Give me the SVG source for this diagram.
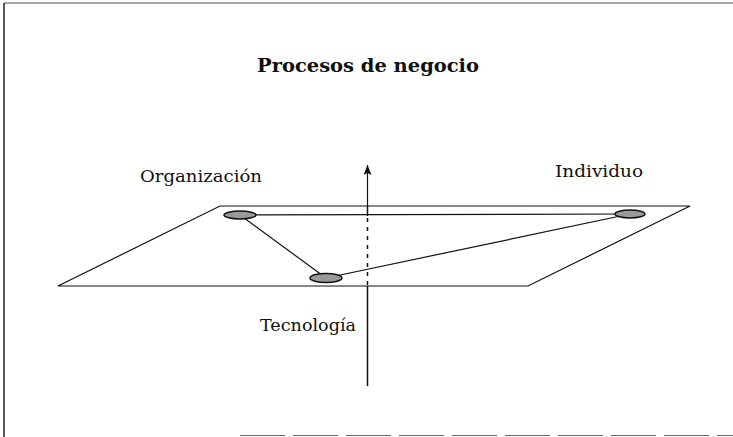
<svg xmlns="http://www.w3.org/2000/svg" width="733" height="437" viewBox="0 0 733 437">
<style>
.t{font-family:"DejaVu Serif","Liberation Serif",serif;fill:#111;}
.l{stroke:#111;stroke-width:1.2;fill:none;}
.e{fill:#9a9a9a;stroke:#111;stroke-width:1.5;}
</style>
<defs>
<marker id="ah" markerWidth="10" markerHeight="8" refX="10" refY="4" orient="auto" markerUnits="userSpaceOnUse" viewBox="0 0 10 8">
<path d="M0,0 L10,4 L0,8 L2,4 Z" fill="#111"/>
</marker>
</defs>
<rect width="733" height="437" fill="#fff"/>
<g id="frame">
<line x1="4" y1="3" x2="733" y2="3" stroke="#555" stroke-width="1.2"/>
<line x1="4" y1="3" x2="4" y2="437" stroke="#222" stroke-width="1.5"/>
<line x1="240" y1="435.5" x2="733" y2="435.5" stroke="#666" stroke-width="1.2" stroke-dasharray="45,8"/>
</g>
<g id="title"><text class="t" x="368" y="72" font-size="18" font-weight="bold" text-anchor="middle" textLength="222" lengthAdjust="spacingAndGlyphs">Procesos de negocio</text></g>
<g id="plane"><polygon class="l" points="58,286 220,206 690,206 528,286"/></g>
<g id="connectors">
<line class="l" x1="240" y1="215" x2="630" y2="214"/>
<line class="l" x1="240" y1="215" x2="326" y2="278"/>
<line class="l" x1="326" y1="278" x2="630" y2="214"/>
<line class="l" x1="367.5" y1="206" x2="367.5" y2="165" marker-end="url(#ah)"/>
<line x1="367.5" y1="206" x2="367.5" y2="216" stroke="#111" stroke-width="1.5"/>
<line x1="367.5" y1="218" x2="367.5" y2="286" stroke="#111" stroke-width="1.5" stroke-dasharray="4,5"/>
<line x1="367.5" y1="286" x2="367.5" y2="386" stroke="#111" stroke-width="1.5"/>
</g>
<g id="organizacion">
<ellipse class="e" cx="240" cy="215" rx="16" ry="4"/>
<text class="t" x="140" y="182" font-size="17" textLength="122" lengthAdjust="spacingAndGlyphs">Organización</text>
</g>
<g id="individuo">
<ellipse class="e" cx="630" cy="214" rx="15" ry="4"/>
<text class="t" x="555" y="177" font-size="17" textLength="88" lengthAdjust="spacingAndGlyphs">Individuo</text>
</g>
<g id="tecnologia">
<ellipse class="e" cx="326" cy="278" rx="16" ry="4.5"/>
<text class="t" x="260" y="331" font-size="17" textLength="96" lengthAdjust="spacingAndGlyphs">Tecnología</text>
</g>
</svg>
